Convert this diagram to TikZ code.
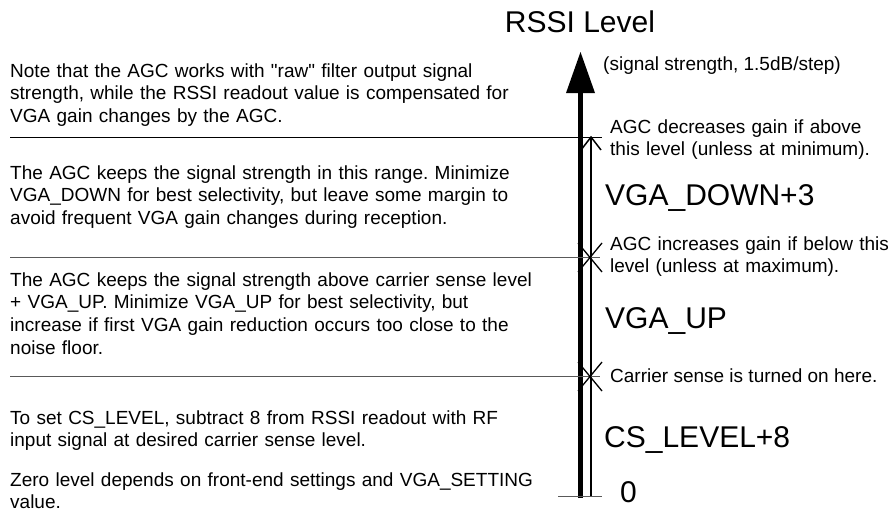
\documentclass[tikz,border=0pt]{standalone}
\usepackage{fontspec}
\setmainfont{Liberation Sans}
\frenchspacing
\begin{document}
\begin{tikzpicture}[x=1pt,y=-1pt,
  small/.style={font=\fontsize{19}{22.7}\selectfont, inner sep=0pt, anchor=base west},
  big/.style={font=\fontsize{30}{36}\selectfont, inner sep=0pt, anchor=base west},
  block/.style={small, text width=570pt, align=left},
  topline/.style={line width=1pt, draw=black},
  sepline/.style={line width=1pt, draw=black!65},
  xmark/.style={line width=1.3pt, draw=black},
  axisthick/.style={line width=4.5pt, draw=black},
  axisthin/.style={line width=1.5pt, draw=black}]
\useasboundingbox (0,0) rectangle (890,515);

% axis
\coordinate (axB) at (580.5,498);
\coordinate (axT) at (580.5,92);
\coordinate (tip) at (580.5,52);
\draw[axisthick] (axB) -- (axT);
\fill (566,93) -- (tip) -- (595,93) -- cycle;
\coordinate (thB) at (591,496);
\coordinate (thT) at (591,138);
\draw[axisthin] (thB) -- (thT);
\draw[axisthin, line join=miter] (581,150) -- (591,137) -- (601,150);

% horizontal separators
\coordinate (l1a) at (10,137); \coordinate (l1b) at (602,137);
\draw[topline] (l1a) -- (l1b);
\coordinate (l2a) at (10,257.5); \coordinate (l2b) at (600,257.5);
\draw[sepline] (l2a) -- (l2b);
\draw[xmark] (578,243) -- (602,272) (578,272) -- (602,243);
\coordinate (l3a) at (10,376.5); \coordinate (l3b) at (600,376.5);
\draw[sepline] (l3a) -- (l3b);
\draw[xmark] (578,362) -- (602,391) (578,391) -- (602,362);
\coordinate (l4a) at (558,496); \coordinate (l4b) at (602,496);
\draw[sepline] (l4a) -- (l4b);

% right labels
\node[big, anchor=base] (title) at (580,32) {RSSI Level};
\node[small] (unit) at (603,70) {(signal strength, 1.5dB/step)};
\node[block] (dec) at (610,133) {AGC decreases gain if above\\this level (unless at minimum).};
\node[big] (vgadown) at (605,205.5) {VGA\_DOWN+3};
\node[block] (inc) at (610,250) {AGC increases gain if below this\\level (unless at maximum).};
\node[big] (vgaup) at (605,328.5) {VGA\_UP};
\node[small] (cs) at (610,382) {Carrier sense is turned on here.};
\node[big] (cslevel) at (604,447.5) {CS\_LEVEL+8};
\node[big] (zero) at (620,502.5) {0};

% left notes
\node[block] (n1) at (10,77) {Note that the AGC works with \textquotedbl raw\textquotedbl{} filter output signal\\strength, while the RSSI readout value is compensated for\\VGA gain changes by the AGC.};
\node[block] (n2) at (10,179) {The AGC keeps the signal strength in this range. Minimize\\VGA\_DOWN for best selectivity, but leave some margin to\\avoid frequent VGA gain changes during reception.};
\node[block] (n3) at (10,286) {The AGC keeps the signal strength above carrier sense level\\+ VGA\_UP. Minimize VGA\_UP for best selectivity, but\\increase if first VGA gain reduction occurs too close to the\\noise floor.};
\node[block] (n4) at (10,424) {To set CS\_LEVEL, subtract 8 from RSSI readout with RF\\input signal at desired carrier sense level.};
\node[block] (n5) at (10,486) {Zero level depends on front-end settings and VGA\_SETTING\\value.};
\end{tikzpicture}
\end{document}
